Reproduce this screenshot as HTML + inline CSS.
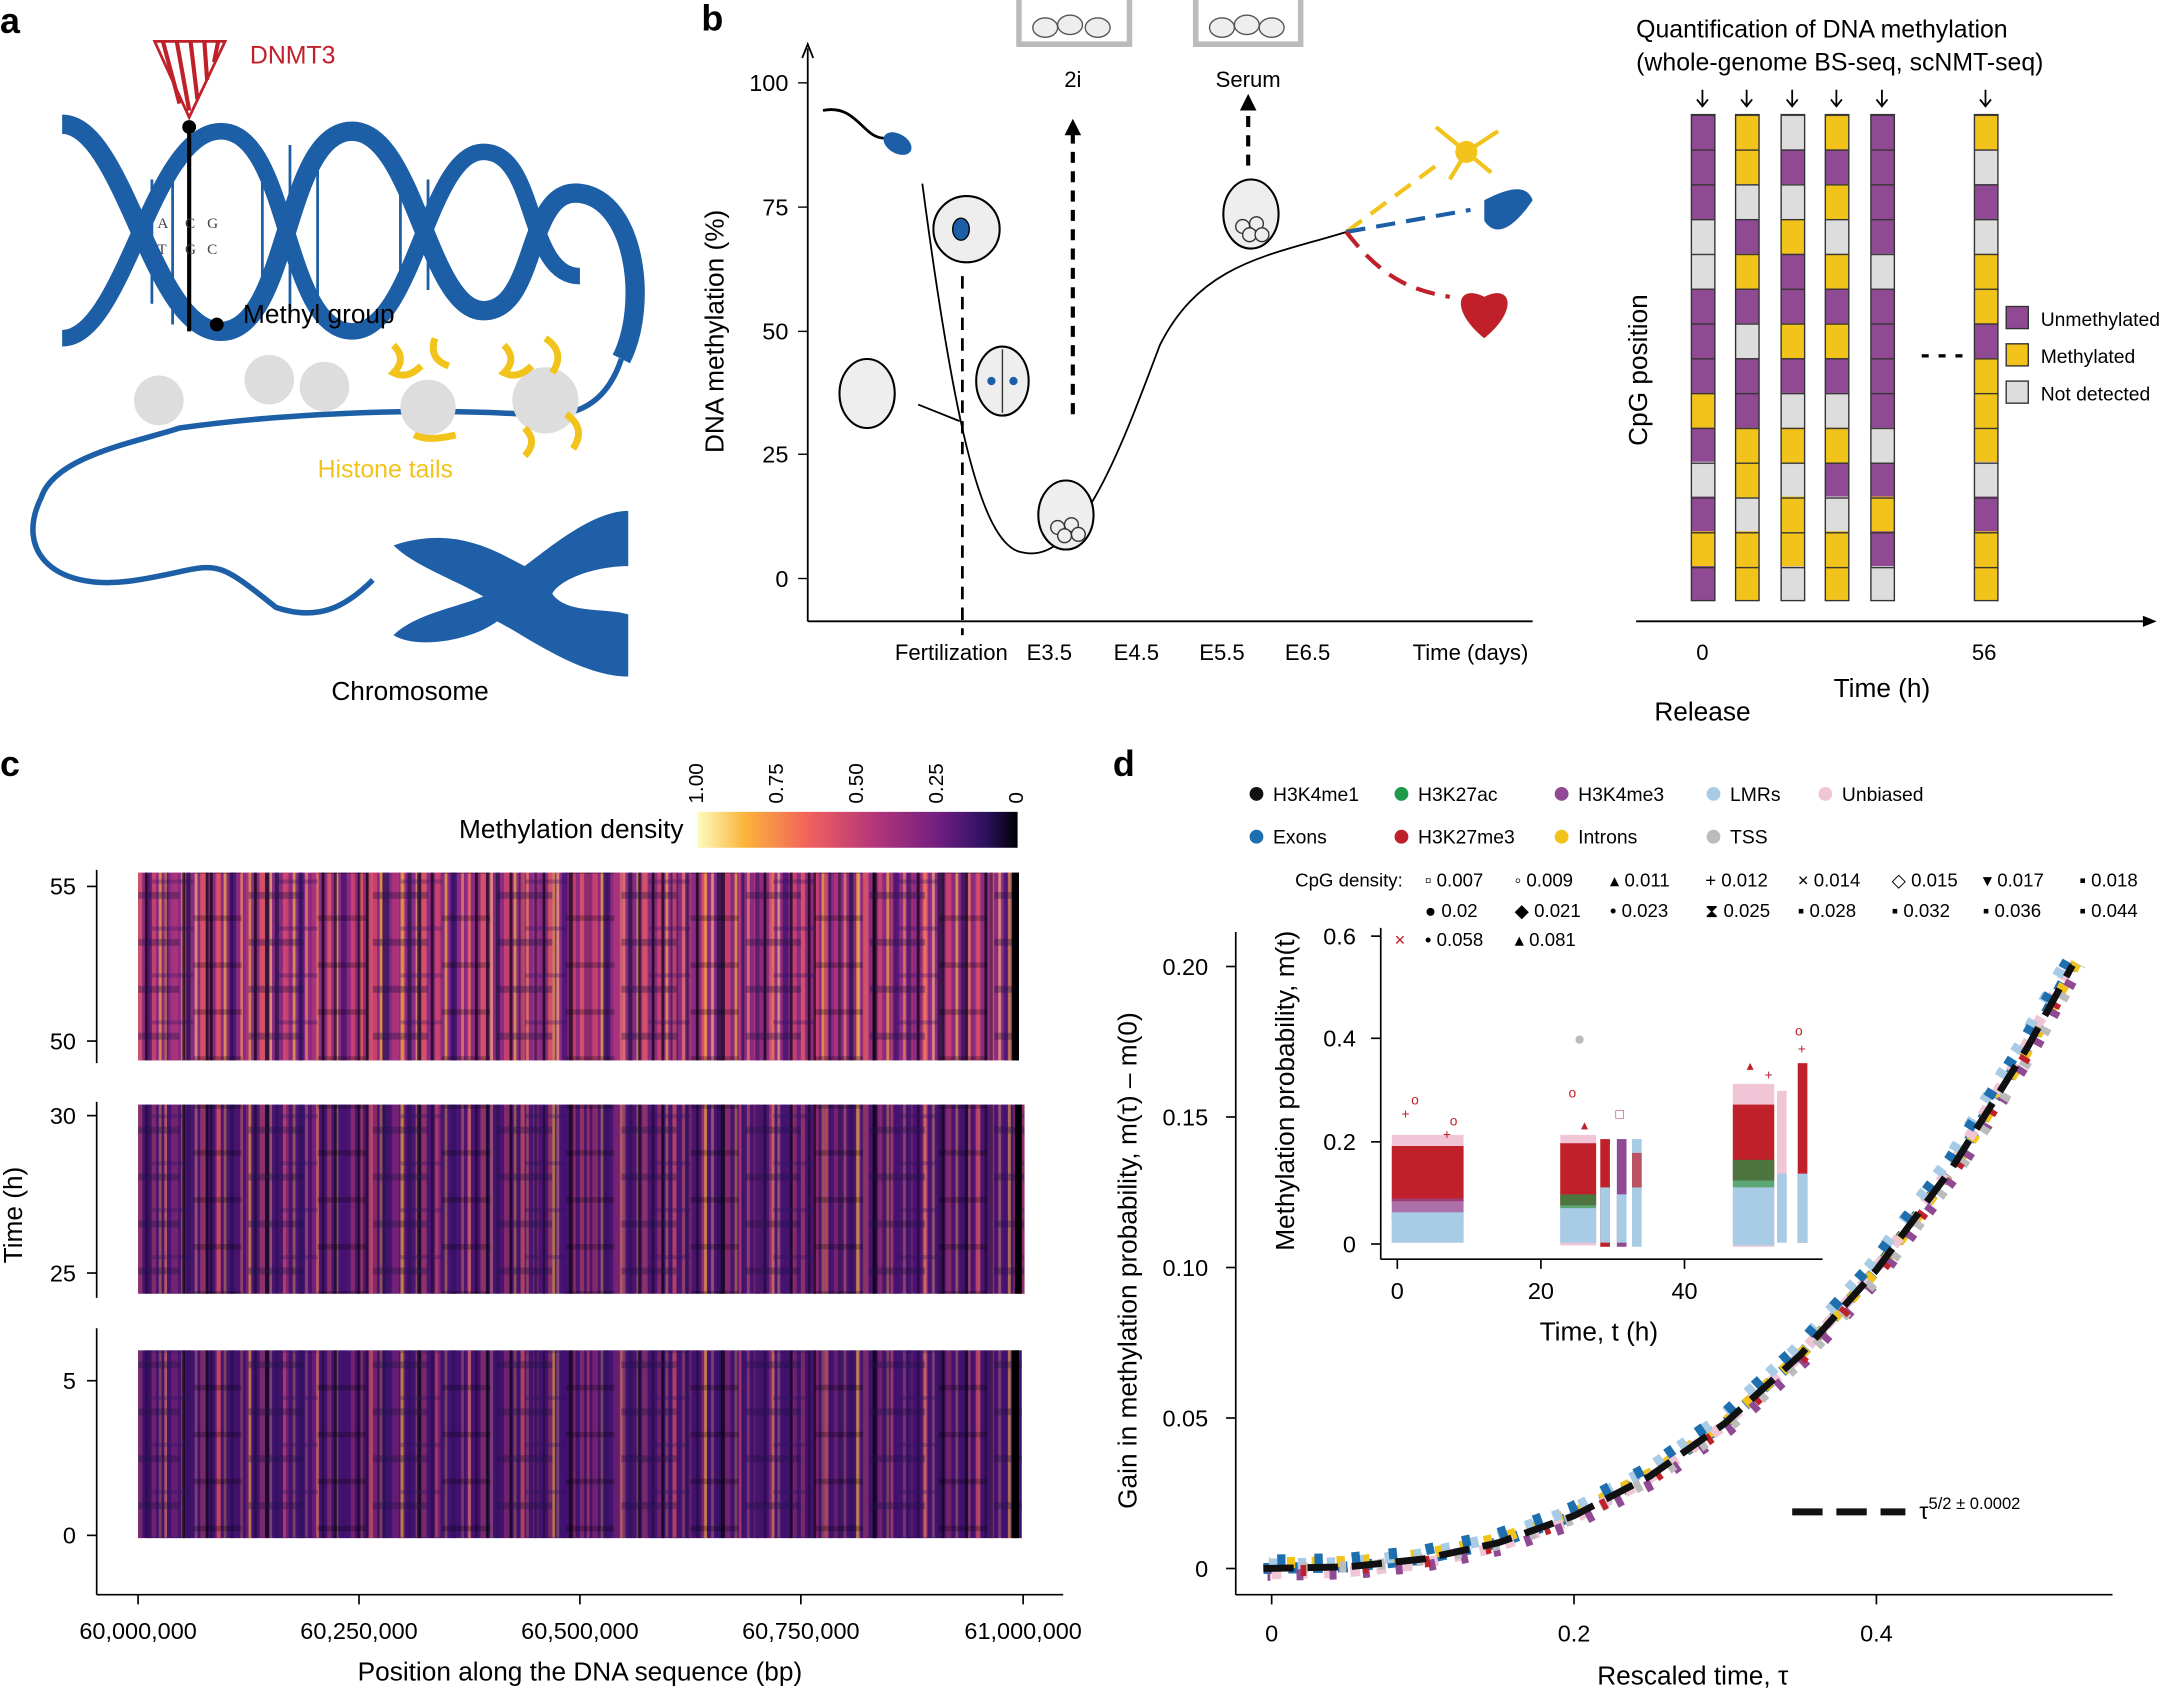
<!DOCTYPE html>
<html><head><meta charset="utf-8">
<style>
html,body{margin:0;padding:0;background:#fff;}
svg{display:block;font-family:"Liberation Sans",sans-serif;}
</style></head>
<body>
<svg width="2165" height="1690" viewBox="0 0 1568 1224" xmlns="http://www.w3.org/2000/svg" xmlns:xlink="http://www.w3.org/1999/xlink">
<defs>
<linearGradient id="cb" x1="0" x2="1"><stop offset="0" stop-color="#fcfdbf"/><stop offset="0.15" stop-color="#fbb33a"/><stop offset="0.35" stop-color="#f1605d"/><stop offset="0.55" stop-color="#b5367a"/><stop offset="0.75" stop-color="#721f81"/><stop offset="0.9" stop-color="#2c115f"/><stop offset="1" stop-color="#000004"/></linearGradient>
<pattern id="hs" x="100" y="0" width="160" height="200" patternUnits="userSpaceOnUse">
<rect x="0" y="0" width="3" height="200" fill="#f1605d"/><rect x="5" y="0" width="2" height="200" fill="#000004"/><rect x="9" y="0" width="4" height="200" fill="#de4968"/><rect x="15" y="0" width="2" height="200" fill="#fbb33a"/><rect x="19" y="0" width="3" height="200" fill="#2c115f"/><rect x="24" y="0" width="5" height="200" fill="#b5367a"/><rect x="31" y="0" width="2" height="200" fill="#fb8861"/><rect x="35" y="0" width="3" height="200" fill="#1c1044"/><rect x="41" y="0" width="2" height="200" fill="#feb078"/><rect x="45" y="0" width="4" height="200" fill="#f1605d"/><rect x="52" y="0" width="2" height="200" fill="#000004"/><rect x="56" y="0" width="3" height="200" fill="#de4968"/><rect x="62" y="0" width="2" height="200" fill="#fbb33a"/><rect x="66" y="0" width="5" height="200" fill="#3b0f70"/><rect x="74" y="0" width="2" height="200" fill="#fb8861"/><rect x="78" y="0" width="3" height="200" fill="#b5367a"/><rect x="84" y="0" width="2" height="200" fill="#000004"/><rect x="88" y="0" width="4" height="200" fill="#f1605d"/><rect x="95" y="0" width="2" height="200" fill="#feb078"/><rect x="99" y="0" width="3" height="200" fill="#1c1044"/><rect x="105" y="0" width="4" height="200" fill="#de4968"/><rect x="112" y="0" width="2" height="200" fill="#fbb33a"/><rect x="116" y="0" width="3" height="200" fill="#2c115f"/><rect x="121" y="0" width="2" height="200" fill="#fb8861"/><rect x="126" y="0" width="4" height="200" fill="#b5367a"/><rect x="133" y="0" width="2" height="200" fill="#000004"/><rect x="137" y="0" width="3" height="200" fill="#f1605d"/><rect x="143" y="0" width="2" height="200" fill="#feb078"/><rect x="147" y="0" width="4" height="200" fill="#3b0f70"/><rect x="154" y="0" width="3" height="200" fill="#de4968"/>
</pattern>
<pattern id="hs2" x="37" y="0" width="110" height="200" patternUnits="userSpaceOnUse">
<rect x="2" y="0" width="2" height="200" fill="#000004"/><rect x="10" y="0" width="3" height="200" fill="#f1605d"/><rect x="20" y="0" width="2" height="200" fill="#1c1044"/><rect x="33" y="0" width="2" height="200" fill="#fbb33a"/><rect x="45" y="0" width="3" height="200" fill="#000004"/><rect x="58" y="0" width="2" height="200" fill="#de4968"/><rect x="70" y="0" width="3" height="200" fill="#2c115f"/><rect x="82" y="0" width="2" height="200" fill="#fb8861"/><rect x="95" y="0" width="2" height="200" fill="#000004"/>
</pattern>
<pattern id="rows" x="0" y="0" width="90" height="34" patternUnits="userSpaceOnUse">
<rect x="0" y="0" width="40" height="5" fill="#1c1044" opacity="0.35"/><rect x="50" y="17" width="35" height="4" fill="#000004" opacity="0.25"/><rect x="20" y="25" width="30" height="3" fill="#2c115f" opacity="0.3"/>
</pattern>
<pattern id="cell" x="0" y="83" width="40" height="25.2" patternUnits="userSpaceOnUse"><line x1="0" y1="0.5" x2="40" y2="0.5" stroke="#333" stroke-width="1"/></pattern>
<path id="cv" d="M915,1136 L975.8,1134.8 L1030.5,1129.2 L1085,1117.4 L1140,1097.8 L1194.8,1069.2 L1249.5,1030.7 L1304,981.2 L1359,919.8 L1413.8,845.8 L1468.5,758.4 L1501,699.1"/>
</defs>
<g font-weight="bold" font-size="26" fill="#000">
<text x="0" y="24">a</text><text x="508" y="22">b</text><text x="0" y="562">c</text><text x="806" y="562">d</text>
</g>
<!-- panel a -->
<g fill="none" stroke="#1d5fa6">
<path d="M45,90 C90,90 110,240 160,240 C210,240 205,95 255,95 C300,95 310,225 350,225 C390,225 380,135 420,140 C460,145 470,220 450,260" stroke-width="14"/>
<path d="M45,245 C90,245 110,95 160,95 C210,95 205,240 255,240 C300,240 310,110 350,110 C390,110 380,200 420,200" stroke-width="12"/>
<path d="M450,260 C440,290 420,305 380,300 C300,295 200,300 130,310 C100,320 40,330 30,360 C10,400 40,430 100,420 C160,410 150,400 200,440 C230,450 250,440 270,420" stroke-width="4"/>
</g>
<g stroke="#1d5fa6" stroke-width="2">
<line x1="110" y1="130" x2="110" y2="220"/><line x1="125" y1="115" x2="125" y2="235"/><line x1="190" y1="120" x2="190" y2="215"/><line x1="210" y1="105" x2="210" y2="230"/><line x1="230" y1="110" x2="230" y2="225"/><line x1="290" y1="135" x2="290" y2="205"/><line x1="310" y1="130" x2="310" y2="210"/>
</g>
<line x1="137" y1="95" x2="137" y2="240" stroke="#000" stroke-width="3"/><circle cx="137" cy="92" r="5"/><circle cx="157" cy="235" r="5"/>
<path d="M112,30 L163,30 L137,85 Z" fill="none" stroke="#c0202a" stroke-width="2"/>
<g stroke="#c0202a" stroke-width="3"><line x1="118" y1="30" x2="130" y2="75"/><line x1="128" y1="30" x2="137" y2="80"/><line x1="138" y1="30" x2="143" y2="72"/><line x1="148" y1="30" x2="150" y2="58"/><line x1="158" y1="30" x2="155" y2="45"/></g>
<text x="181" y="46" font-size="18" fill="#c0202a">DNMT3</text>
<g font-family="Liberation Serif" font-size="11" fill="#444"><text x="114" y="165">A</text><text x="134" y="165">C</text><text x="150" y="165">G</text><text x="114" y="184">T</text><text x="134" y="184">G</text><text x="150" y="184">C</text></g>
<text x="176" y="234" font-size="19">Methyl group</text>
<g fill="#ddd"><circle cx="115" cy="290" r="18"/><circle cx="195" cy="275" r="18"/><circle cx="235" cy="280" r="18"/><circle cx="310" cy="295" r="20"/><circle cx="395" cy="290" r="24"/></g>
<g fill="none" stroke="#f2c31a" stroke-width="5"><path d="M285,250 q10,10 0,20 q10,5 20,-5"/><path d="M315,245 q-5,15 10,20"/><path d="M365,250 q10,10 0,20 q10,5 20,-5"/><path d="M395,245 q15,10 5,25"/><path d="M380,310 q10,10 0,20"/><path d="M410,300 q15,10 5,25"/><path d="M300,315 q10,5 30,0"/></g>
<text x="230" y="346" font-size="18" fill="#f2c31a">Histone tails</text>
<path d="M285,395 C330,380 360,400 380,410 C400,395 430,370 455,370 L455,410 C430,410 405,420 400,430 C410,445 440,440 455,445 L455,490 C420,490 380,460 360,450 C340,465 300,470 285,460 C300,445 330,440 350,432 C330,420 300,410 285,395 Z" fill="#1f5fa8"/>
<text x="240" y="507" font-size="19">Chromosome</text>
<!-- panel b -->
<g stroke="#000" stroke-width="1.3" fill="none">
<line x1="585" y1="450" x2="585" y2="35"/><path d="M581,42 L585,32 L589,42"/>
<line x1="585" y1="450" x2="1110" y2="450"/>
<path d="M668,133 C690,300 710,395 740,400 C780,410 810,330 840,250 C870,190 920,185 975,168"/>
<path d="M665,293 L695,305"/>
</g>
<g stroke="#000" stroke-width="1"><line x1="585" y1="60" x2="578" y2="60"/><line x1="585" y1="150" x2="578" y2="150"/><line x1="585" y1="240" x2="578" y2="240"/><line x1="585" y1="329" x2="578" y2="329"/><line x1="585" y1="419" x2="578" y2="419"/></g>
<g font-size="17" text-anchor="end"><text x="571" y="66">100</text><text x="571" y="156">75</text><text x="571" y="246">50</text><text x="571" y="335">25</text><text x="571" y="425">0</text></g>
<text transform="translate(524,240) rotate(-90)" font-size="19" text-anchor="middle">DNA methylation (%)</text>
<g font-size="16" text-anchor="middle"><text x="689" y="478">Fertilization</text><text x="760" y="478">E3.5</text><text x="823" y="478">E4.5</text><text x="885" y="478">E5.5</text><text x="947" y="478">E6.5</text><text x="1065" y="478">Time (days)</text></g>
<line x1="697" y1="200" x2="697" y2="460" stroke="#000" stroke-width="2" stroke-dasharray="9,6"/>
<line x1="777" y1="300" x2="777" y2="95" stroke="#000" stroke-width="3" stroke-dasharray="8,6"/><path d="M771,98 L777,86 L783,98 Z"/>
<line x1="904" y1="120" x2="904" y2="78" stroke="#000" stroke-width="3" stroke-dasharray="8,6"/><path d="M898,80 L904,68 L910,80 Z"/>
<text x="777" y="63" font-size="16" text-anchor="middle">2i</text><text x="904" y="63" font-size="16" text-anchor="middle">Serum</text>
<g fill="none" stroke="#bbb" stroke-width="4"><path d="M738,0 V32 H818 V0"/><path d="M866,0 V32 H942 V0"/></g>
<g fill="#eee" stroke="#555" stroke-width="1"><ellipse cx="757" cy="20" rx="9" ry="7"/><ellipse cx="775" cy="18" rx="9" ry="7"/><ellipse cx="795" cy="20" rx="9" ry="7"/><ellipse cx="885" cy="20" rx="9" ry="7"/><ellipse cx="903" cy="18" rx="9" ry="7"/><ellipse cx="921" cy="20" rx="9" ry="7"/></g>
<g fill="#eee" stroke="#000" stroke-width="1.5"><ellipse cx="628" cy="285" rx="20" ry="25"/><circle cx="700" cy="166" r="24"/><ellipse cx="726" cy="276" rx="19" ry="25"/><ellipse cx="772" cy="373" rx="20" ry="25"/><ellipse cx="906" cy="155" rx="20" ry="25"/></g>
<g fill="#eee" stroke="#333" stroke-width="1"><circle cx="766" cy="382" r="5"/><circle cx="776" cy="380" r="5"/><circle cx="771" cy="388" r="5"/><circle cx="781" cy="387" r="5"/><circle cx="900" cy="164" r="5"/><circle cx="910" cy="162" r="5"/><circle cx="905" cy="170" r="5"/><circle cx="914" cy="170" r="5"/><path d="M726,253 V299" fill="none"/></g>
<ellipse cx="696" cy="166" rx="6" ry="8" fill="#1d5fa6" stroke="#000"/>
<g fill="#1d5fa6"><circle cx="718" cy="276" r="3"/><circle cx="734" cy="276" r="3"/></g>
<path d="M596,80 C620,75 625,100 640,100" fill="none" stroke="#000" stroke-width="2"/><ellipse cx="650" cy="104" rx="11" ry="7" fill="#1d5fa6" transform="rotate(30 650 104)"/>
<path d="M975,168 L1040,120" stroke="#f2c31a" stroke-width="3" stroke-dasharray="14,8"/>
<path d="M975,168 L1065,152" stroke="#1d5fa6" stroke-width="3" stroke-dasharray="14,8"/>
<path d="M975,168 C1000,200 1020,210 1050,215" fill="none" stroke="#c0202a" stroke-width="3" stroke-dasharray="14,8"/>
<g stroke="#f2c31a" stroke-width="3"><line x1="1062" y1="110" x2="1040" y2="92"/><line x1="1062" y1="110" x2="1085" y2="95"/><line x1="1062" y1="110" x2="1050" y2="130"/><line x1="1062" y1="110" x2="1080" y2="125"/></g>
<circle cx="1062" cy="110" r="8" fill="#f2c31a"/>
<path d="M1075,145 C1085,140 1105,130 1110,145 C1100,160 1085,175 1075,160 Z" fill="#1d5fa6"/>
<path d="M1075,245 C1050,225 1055,205 1075,215 C1095,205 1100,225 1075,245 Z" fill="#c0202a"/>
<!-- b right columns -->
<text x="1185" y="27" font-size="18">Quantification of DNA methylation</text>
<text x="1185" y="51" font-size="18">(whole-genome BS-seq, scNMT-seq)</text>
<g stroke="#000" stroke-width="1.3" fill="none">
<path d="M1233,65 v12 M1229,72 l4,5 l4,-5"/><path d="M1265,65 v12 M1261,72 l4,5 l4,-5"/><path d="M1298,65 v12 M1294,72 l4,5 l4,-5"/><path d="M1330,65 v12 M1326,72 l4,5 l4,-5"/><path d="M1363,65 v12 M1359,72 l4,5 l4,-5"/><path d="M1438,65 v12 M1434,72 l4,5 l4,-5"/>
</g>
<g fill="#8f4a93"><rect x="1225" y="83" width="17" height="352"/><rect x="1257" y="83" width="17" height="352"/><rect x="1290" y="83" width="17" height="352"/><rect x="1322" y="83" width="17" height="352"/><rect x="1355" y="83" width="17" height="352"/><rect x="1430" y="83" width="17" height="352"/></g>
<g fill="#ddd">
<rect x="1225" y="158.6" width="17" height="50.4"/><rect x="1225" y="334.4" width="17" height="25.2"/>
<rect x="1257" y="133.4" width="17" height="25.2"/><rect x="1257" y="234.2" width="17" height="25.2"/><rect x="1257" y="359.6" width="17" height="25.2"/>
<rect x="1290" y="83" width="17" height="25.2"/><rect x="1290" y="133.4" width="17" height="25.2"/><rect x="1290" y="284.6" width="17" height="25.2"/><rect x="1290" y="334.4" width="17" height="25.2"/><rect x="1290" y="410" width="17" height="25"/>
<rect x="1322" y="158.6" width="17" height="25.2"/><rect x="1322" y="284.6" width="17" height="25.2"/><rect x="1322" y="359.6" width="17" height="25.2"/>
<rect x="1355" y="183.8" width="17" height="25.2"/><rect x="1355" y="309.8" width="17" height="25.2"/><rect x="1355" y="410" width="17" height="25"/>
<rect x="1430" y="108.2" width="17" height="25.2"/><rect x="1430" y="158.6" width="17" height="25.2"/><rect x="1430" y="334.4" width="17" height="25.2"/>
</g>
<g fill="#f2c31a">
<rect x="1225" y="284.6" width="17" height="25.2"/><rect x="1225" y="384.8" width="17" height="25.2"/>
<rect x="1257" y="83" width="17" height="50.4"/><rect x="1257" y="183.8" width="17" height="25.2"/><rect x="1257" y="309.8" width="17" height="50.4"/><rect x="1257" y="384.8" width="17" height="50.2"/>
<rect x="1290" y="158.6" width="17" height="25.2"/><rect x="1290" y="234.2" width="17" height="25.2"/><rect x="1290" y="309.8" width="17" height="25.2"/><rect x="1290" y="359.6" width="17" height="50.4"/>
<rect x="1322" y="83" width="17" height="25.2"/><rect x="1322" y="133.4" width="17" height="25.2"/><rect x="1322" y="183.8" width="17" height="25.2"/><rect x="1322" y="234.2" width="17" height="25.2"/><rect x="1322" y="309.8" width="17" height="25.2"/><rect x="1322" y="384.8" width="17" height="50.2"/>
<rect x="1355" y="359.6" width="17" height="25.2"/>
<rect x="1430" y="83" width="17" height="25.2"/><rect x="1430" y="183.8" width="17" height="50.4"/><rect x="1430" y="259.4" width="17" height="75"/><rect x="1430" y="384.8" width="17" height="50.2"/>
</g>
<g fill="url(#cell)" stroke="#333" stroke-width="1"><rect x="1225" y="83" width="17" height="352"/><rect x="1257" y="83" width="17" height="352"/><rect x="1290" y="83" width="17" height="352"/><rect x="1322" y="83" width="17" height="352"/><rect x="1355" y="83" width="17" height="352"/><rect x="1430" y="83" width="17" height="352"/></g>
<text x="1391" y="263" font-size="20" font-weight="bold">- - -</text>
<line x1="1185" y1="450" x2="1555" y2="450" stroke="#000" stroke-width="1.3"/><path d="M1552,446 L1562,450 L1552,454"/>
<text transform="translate(1193,268) rotate(-90)" font-size="19" text-anchor="middle">CpG position</text>
<g font-size="16" text-anchor="middle"><text x="1233" y="478">0</text><text x="1437" y="478">56</text></g>
<text x="1363" y="505" font-size="19" text-anchor="middle">Time (h)</text>
<text x="1233" y="522" font-size="19" text-anchor="middle">Release</text>
<g stroke="#333"><rect x="1453" y="222" width="16" height="16" fill="#8f4a93"/><rect x="1453" y="249" width="16" height="16" fill="#f2c31a"/><rect x="1453" y="276" width="16" height="16" fill="#ddd"/></g>
<g font-size="14"><text x="1478" y="236">Unmethylated</text><text x="1478" y="263">Methylated</text><text x="1478" y="290">Not detected</text></g>
<!-- panel c -->
<text x="495" y="607" font-size="19" text-anchor="end">Methylation density</text>
<rect x="505" y="588" width="232" height="26" fill="url(#cb)"/>
<g font-size="15"><text transform="translate(509,582) rotate(-90)">1.00</text><text transform="translate(567,582) rotate(-90)">0.75</text><text transform="translate(625,582) rotate(-90)">0.50</text><text transform="translate(683,582) rotate(-90)">0.25</text><text transform="translate(741,582) rotate(-90)">0</text></g>
<rect x="100" y="632" width="638" height="136" fill="#8a2a80"/>
<rect x="100" y="632" width="638" height="136" fill="url(#hs)" opacity="0.7"/>
<rect x="100" y="632" width="638" height="136" fill="url(#hs2)" opacity="0.6"/>
<rect x="100" y="632" width="638" height="136" fill="url(#rows)"/>
<rect x="100" y="800" width="642" height="137" fill="#4a1470"/>
<rect x="100" y="800" width="642" height="137" fill="url(#hs)" opacity="0.4"/>
<rect x="100" y="800" width="642" height="137" fill="url(#hs2)" opacity="0.6"/>
<rect x="100" y="800" width="642" height="137" fill="url(#rows)"/>
<rect x="100" y="978" width="640" height="136" fill="#43126f"/>
<rect x="100" y="978" width="640" height="136" fill="url(#hs)" opacity="0.3"/>
<rect x="100" y="978" width="640" height="136" fill="url(#hs2)" opacity="0.6"/>
<rect x="100" y="978" width="640" height="136" fill="url(#rows)"/>
<g fill="#000004"><rect x="733" y="632" width="5" height="136"/><rect x="735" y="800" width="5" height="137"/><rect x="733" y="978" width="5" height="136"/></g>
<g stroke="#000" stroke-width="1.2" fill="none">
<line x1="70" y1="630" x2="70" y2="1155"/><line x1="70" y1="1155" x2="770" y2="1155"/>
<line x1="70" y1="642" x2="63" y2="642"/><line x1="70" y1="754" x2="63" y2="754"/><line x1="70" y1="808" x2="63" y2="808"/><line x1="70" y1="922" x2="63" y2="922"/><line x1="70" y1="1000" x2="63" y2="1000"/><line x1="70" y1="1112" x2="63" y2="1112"/>
<line x1="100" y1="1155" x2="100" y2="1162"/><line x1="260" y1="1155" x2="260" y2="1162"/><line x1="420" y1="1155" x2="420" y2="1162"/><line x1="580" y1="1155" x2="580" y2="1162"/><line x1="741" y1="1155" x2="741" y2="1162"/>
</g>
<g fill="#fff"><rect x="64" y="770" width="12" height="28"/><rect x="64" y="940" width="12" height="22"/></g>
<g font-size="17" text-anchor="end"><text x="55" y="648">55</text><text x="55" y="760">50</text><text x="55" y="814">30</text><text x="55" y="928">25</text><text x="55" y="1006">5</text><text x="55" y="1118">0</text></g>
<text transform="translate(16,880) rotate(-90)" font-size="19" text-anchor="middle">Time (h)</text>
<g font-size="17" text-anchor="middle"><text x="100" y="1187">60,000,000</text><text x="260" y="1187">60,250,000</text><text x="420" y="1187">60,500,000</text><text x="580" y="1187">60,750,000</text><text x="741" y="1187">61,000,000</text></g>
<text x="420" y="1217" font-size="19" text-anchor="middle">Position along the DNA sequence (bp)</text>
<!-- panel d -->
<g font-size="14">
<circle cx="910" cy="575" r="5" fill="#111"/><text x="922" y="580">H3K4me1</text>
<circle cx="1015" cy="575" r="5" fill="#1e9a4a"/><text x="1027" y="580">H3K27ac</text>
<circle cx="1131" cy="575" r="5" fill="#8f4a93"/><text x="1143" y="580">H3K4me3</text>
<circle cx="1241" cy="575" r="5" fill="#a8cbe6"/><text x="1253" y="580">LMRs</text>
<circle cx="1322" cy="575" r="5" fill="#f0c6d6"/><text x="1334" y="580">Unbiased</text>
<circle cx="910" cy="606" r="5" fill="#1d6fb0"/><text x="922" y="611">Exons</text>
<circle cx="1015" cy="606" r="5" fill="#c0202a"/><text x="1027" y="611">H3K27me3</text>
<circle cx="1131" cy="606" r="5" fill="#f2c31a"/><text x="1143" y="611">Introns</text>
<circle cx="1241" cy="606" r="5" fill="#bbb"/><text x="1253" y="611">TSS</text>
</g>
<g font-size="13.5">
<text x="938" y="642">CpG density:</text>
<text x="1032" y="642">▫ 0.007</text><text x="1097" y="642">◦ 0.009</text><text x="1166" y="642">▴ 0.011</text><text x="1235" y="642">+ 0.012</text><text x="1302" y="642">× 0.014</text><text x="1370" y="642">◇ 0.015</text><text x="1436" y="642">▾ 0.017</text><text x="1506" y="642">▪ 0.018</text>
<text x="1032" y="664">● 0.02</text><text x="1097" y="664">◆ 0.021</text><text x="1166" y="664">• 0.023</text><text x="1235" y="664">⧗ 0.025</text><text x="1302" y="664">▪ 0.028</text><text x="1370" y="664">▪ 0.032</text><text x="1436" y="664">▪ 0.036</text><text x="1506" y="664">▪ 0.044</text>
<text x="1010" y="685" fill="#c0202a">×</text><text x="1032" y="685">• 0.058</text><text x="1097" y="685">▴ 0.081</text>
</g>
<g stroke="#000" stroke-width="1.2" fill="none">
<line x1="895" y1="675" x2="895" y2="1155"/><line x1="895" y1="1155" x2="1530" y2="1155"/>
<line x1="895" y1="700" x2="888" y2="700"/><line x1="895" y1="809" x2="888" y2="809"/><line x1="895" y1="918" x2="888" y2="918"/><line x1="895" y1="1027" x2="888" y2="1027"/><line x1="895" y1="1136" x2="888" y2="1136"/>
<line x1="921" y1="1155" x2="921" y2="1162"/><line x1="1140" y1="1155" x2="1140" y2="1162"/><line x1="1359" y1="1155" x2="1359" y2="1162"/>
</g>
<g font-size="17" text-anchor="end"><text x="875" y="706">0.20</text><text x="875" y="815">0.15</text><text x="875" y="924">0.10</text><text x="875" y="1033">0.05</text><text x="875" y="1142">0</text></g>
<g font-size="17" text-anchor="middle"><text x="921" y="1189">0</text><text x="1140" y="1189">0.2</text><text x="1359" y="1189">0.4</text></g>
<text x="1226" y="1220" font-size="19" text-anchor="middle">Rescaled time, τ</text>
<text transform="translate(823,913) rotate(-90)" font-size="19" text-anchor="middle">Gain in methylation probability, m(τ) – m(0)</text>
<!-- scatter via dashed thick paths -->
<g fill="none" stroke-width="8">
<use href="#cv" xlink:href="#cv" stroke="#1d6fb0" stroke-dasharray="7,11"/>
<use href="#cv" xlink:href="#cv" transform="translate(4,-4)" stroke="#f2c31a" stroke-dasharray="6,12" stroke-dashoffset="5"/>
<use href="#cv" xlink:href="#cv" transform="translate(-4,4)" stroke="#f0c6d6" stroke-dasharray="7,12" stroke-dashoffset="9"/>
<use href="#cv" xlink:href="#cv" transform="translate(3,5)" stroke="#8f4a93" stroke-dasharray="5,19" stroke-dashoffset="3"/>
<use href="#cv" xlink:href="#cv" transform="translate(-5,-3)" stroke="#a8cbe6" stroke-dasharray="6,15" stroke-dashoffset="12"/>
<use href="#cv" xlink:href="#cv" transform="translate(6,0)" stroke="#bbb" stroke-dasharray="5,23" stroke-dashoffset="7"/>
<use href="#cv" xlink:href="#cv" transform="translate(-2,-6)" stroke="#1d6fb0" stroke-dasharray="6,21" stroke-dashoffset="15"/>
<use href="#cv" xlink:href="#cv" transform="translate(2,2)" stroke="#c0202a" stroke-dasharray="4,41" stroke-dashoffset="20"/>
</g>
<use href="#cv" xlink:href="#cv" fill="none" stroke="#111" stroke-width="5" stroke-dasharray="22,10"/>
<line x1="1298" y1="1095" x2="1380" y2="1095" stroke="#111" stroke-width="5" stroke-dasharray="22,10"/>
<text x="1390" y="1100" font-size="17">τ<tspan dy="-7" font-size="12">5/2 ± 0.0002</tspan></text>
<!-- inset -->
<g stroke="#000" stroke-width="1.2" fill="none">
<line x1="1000" y1="672" x2="1000" y2="912"/><line x1="1000" y1="912" x2="1320" y2="912"/>
<line x1="1000" y1="678" x2="993" y2="678"/><line x1="1000" y1="752" x2="993" y2="752"/><line x1="1000" y1="827" x2="993" y2="827"/><line x1="1000" y1="901" x2="993" y2="901"/>
<line x1="1012" y1="912" x2="1012" y2="919"/><line x1="1116" y1="912" x2="1116" y2="919"/><line x1="1220" y1="912" x2="1220" y2="919"/>
</g>
<g font-size="17" text-anchor="end"><text x="982" y="684">0.6</text><text x="982" y="758">0.4</text><text x="982" y="833">0.2</text><text x="982" y="907">0</text></g>
<g font-size="17" text-anchor="middle"><text x="1012" y="941">0</text><text x="1116" y="941">20</text><text x="1220" y="941">40</text></g>
<text x="1158" y="971" font-size="19" text-anchor="middle">Time, t (h)</text>
<text transform="translate(937,790) rotate(-90)" font-size="19" text-anchor="middle">Methylation probability, m(t)</text>
<g>
<rect x="1008" y="822" width="52" height="78" fill="#f0c6d6"/>
<rect x="1008" y="830" width="52" height="40" fill="#c0202a"/>
<rect x="1008" y="868" width="52" height="16" fill="#8f4a93" opacity="0.7"/>
<rect x="1008" y="878" width="52" height="22" fill="#a8cbe6"/>
<rect x="1130" y="822" width="26" height="80" fill="#f0c6d6"/>
<rect x="1130" y="828" width="26" height="45" fill="#c0202a"/>
<rect x="1130" y="865" width="26" height="12" fill="#1e9a4a" opacity="0.7"/>
<rect x="1130" y="875" width="26" height="25" fill="#a8cbe6"/>
<rect x="1159" y="825" width="7" height="78" fill="#c0202a"/><rect x="1159" y="860" width="7" height="40" fill="#a8cbe6"/>
<rect x="1171" y="825" width="7" height="78" fill="#8f4a93"/><rect x="1171" y="865" width="7" height="35" fill="#a8cbe6"/>
<rect x="1182" y="825" width="7" height="78" fill="#a8cbe6"/><rect x="1182" y="835" width="7" height="25" fill="#c0202a" opacity="0.7"/>
<rect x="1255" y="785" width="30" height="118" fill="#f0c6d6"/>
<rect x="1255" y="800" width="30" height="55" fill="#c0202a"/>
<rect x="1255" y="840" width="30" height="20" fill="#1e9a4a" opacity="0.7"/>
<rect x="1255" y="860" width="30" height="42" fill="#a8cbe6"/>
<rect x="1287" y="790" width="7" height="110" fill="#f0c6d6"/><rect x="1287" y="850" width="7" height="50" fill="#a8cbe6"/>
<rect x="1302" y="770" width="7" height="130" fill="#c0202a"/><rect x="1302" y="850" width="7" height="50" fill="#a8cbe6"/>
</g>
<g font-size="10" fill="#c0202a"><text x="1015" y="810">+</text><text x="1022" y="800">o</text><text x="1045" y="825">+</text><text x="1050" y="815">o</text><text x="1136" y="795">o</text><text x="1145" y="818">▴</text><text x="1170" y="810">□</text><text x="1265" y="775">▴</text><text x="1278" y="782">+</text><text x="1300" y="750">o</text><text x="1302" y="763">+</text></g>
<circle cx="1144" cy="753" r="3" fill="#bbb"/>
</svg>
</body></html>
